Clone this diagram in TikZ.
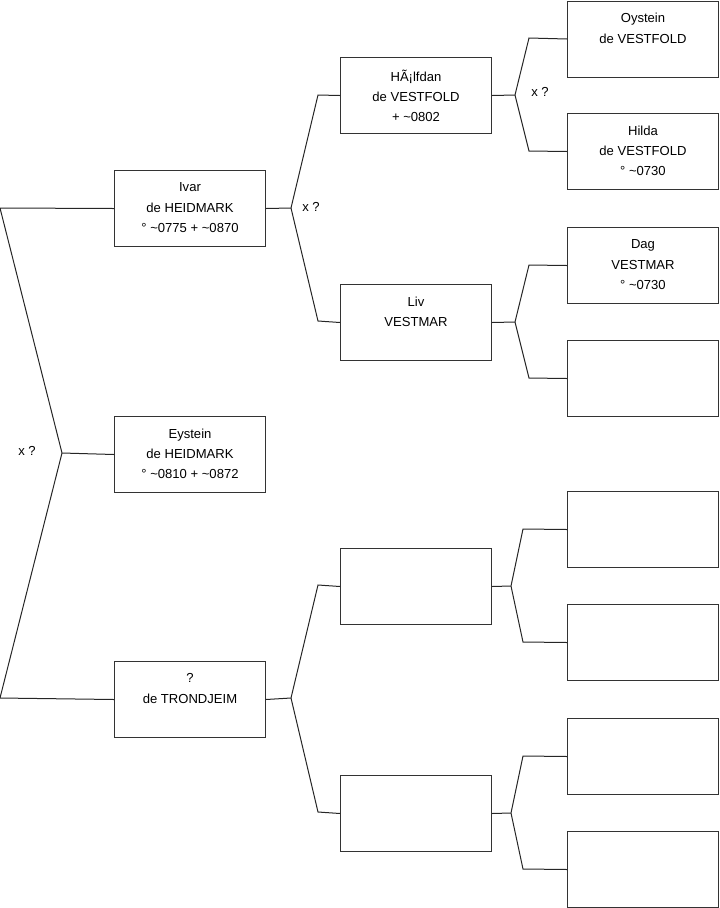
\documentclass[tikz,border=0pt]{standalone}
\usepackage{fontspec}
\setmainfont{Liberation Sans}
\begin{document}
\begin{tikzpicture}[x=0.75pt,y=-0.75pt,
  person/.style={draw=black!80, line width=0.75pt, minimum width=113.25pt, minimum height=57pt, inner sep=0pt, anchor=north west},
  lbl/.style={anchor=north, align=center, font=\fontsize{9.8}{15.2}\selectfont, inner sep=0pt},
  link/.style={line width=0.75pt, draw=black!85},
  xmark/.style={anchor=center, font=\fontsize{9.8}{11}\selectfont, inner sep=0pt}]
\useasboundingbox (0,0) rectangle (719,908);
% column 1
\node[person] (i) at (114,170) {};
\node[person] (e) at (114,416) {};
\node[person] (t) at (114,661) {};
% column 2
\node[person] (h) at (340,57) {};
\node[person] (l) at (340,284) {};
\node[person] (m1) at (340,548) {};
\node[person] (m2) at (340,775) {};
% column 3
\node[person] (o) at (567,0.5) {};
\node[person] (hi) at (567,113) {};
\node[person] (d) at (567,227) {};
\node[person] (r4) at (567,340) {};
\node[person] (r5) at (567,491) {};
\node[person] (r6) at (567,604) {};
\node[person] (r7) at (567,718) {};
\node[person] (r8) at (567,831) {};
% labels
\node[lbl] (ti) at ([yshift=-9.4pt]i.north) {Ivar\\de HEIDMARK\\° \textasciitilde0775 + \textasciitilde0870};
\node[lbl] (te) at ([yshift=-9.4pt]e.north) {Eystein\\de HEIDMARK\\° \textasciitilde0810 + \textasciitilde0872};
\node[lbl] (tt) at ([yshift=-9.4pt]t.north) {?\\de TRONDJEIM};
\node[lbl] (th) at ([yshift=-9.4pt]h.north) {HÃ¡lfdan\\de VESTFOLD\\+ \textasciitilde0802};
\node[lbl] (tl) at ([yshift=-9.4pt]l.north) {Liv\\VESTMAR};
\node[lbl] (to) at ([yshift=-9.4pt]o.north) {Oystein\\de VESTFOLD};
\node[lbl] (thi) at ([yshift=-9.4pt]hi.north) {Hilda\\de VESTFOLD\\° \textasciitilde0730};
\node[lbl] (td) at ([yshift=-9.4pt]d.north) {Dag\\VESTMAR\\° \textasciitilde0730};
% junctions
\coordinate (je) at (62,453);
\coordinate (ea) at (0,208);
\coordinate (eb) at (0,698);
\coordinate (ji) at (291,208);
\coordinate (ia) at (318,95);
\coordinate (ib) at (318,321);
\coordinate (jt) at (291,698);
\coordinate (ta) at (318,585);
\coordinate (tb) at (318,812);
\coordinate (jh) at (515,95);
\coordinate (ha) at (529,38);
\coordinate (hb) at (529,151);
\coordinate (jl) at (515,322);
\coordinate (la) at (529,265);
\coordinate (lb) at (529,378);
\coordinate (jm1) at (511,586);
\coordinate (m1a) at (523,529);
\coordinate (m1b) at (523,642);
\coordinate (jm2) at (511,813);
\coordinate (m2a) at (523,756);
\coordinate (m2b) at (523,869);
% connectors
\draw[link] (e.west) -- (je);
\draw[link] (je) -- (ea) -- (i.west);
\draw[link] (je) -- (eb) -- (t.west);
\draw[link] (i.east) -- (ji);
\draw[link] (ji) -- (ia) -- (h.west);
\draw[link] (ji) -- (ib) -- (l.west);
\draw[link] (t.east) -- (jt);
\draw[link] (jt) -- (ta) -- (m1.west);
\draw[link] (jt) -- (tb) -- (m2.west);
\draw[link] (h.east) -- (jh);
\draw[link] (jh) -- (ha) -- (o.west);
\draw[link] (jh) -- (hb) -- (hi.west);
\draw[link] (l.east) -- (jl);
\draw[link] (jl) -- (la) -- (d.west);
\draw[link] (jl) -- (lb) -- (r4.west);
\draw[link] (m1.east) -- (jm1);
\draw[link] (jm1) -- (m1a) -- (r5.west);
\draw[link] (jm1) -- (m1b) -- (r6.west);
\draw[link] (m2.east) -- (jm2);
\draw[link] (jm2) -- (m2a) -- (r7.west);
\draw[link] (jm2) -- (m2b) -- (r8.west);
% marriage marks
\node[xmark] (x1) at (27,451) {x ?};
\node[xmark] (x2) at (311,207) {x ?};
\node[xmark] (x3) at (540,92) {x ?};
\end{tikzpicture}
\end{document}
